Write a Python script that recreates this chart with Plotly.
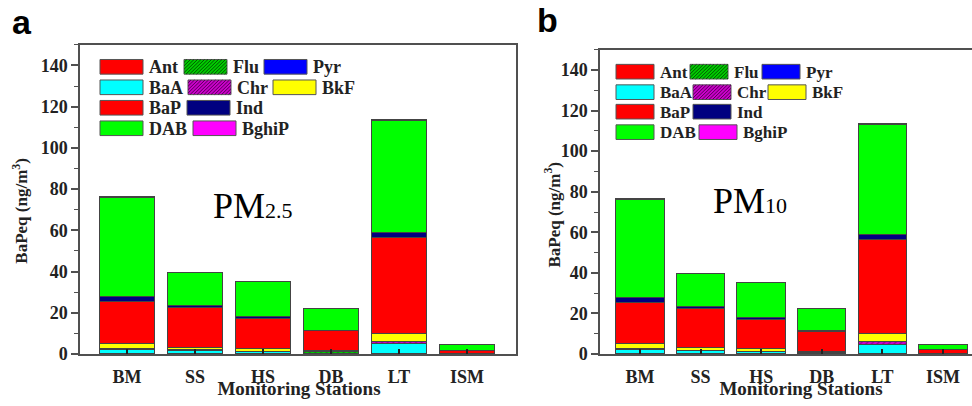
import plotly.graph_objects as go

# ---------------- data ----------------
stations = ["BM", "SS", "HS", "DB", "LT", "ISM"]
species = ["Ant", "Flu", "Pyr", "BaA", "Chr", "BkF", "BaP", "Ind", "DAB", "BghiP"]
y_ticks = [0, 20, 40, 60, 80, 100, 120, 140]
x_title = "Monitoring Stations"

# PM2.5 BaPeq (ng/m3)
pm25_ant = [0.1, 0.1, 0.1, 0.5, 0.2, 0.2]
pm25_flu = [0.05, 0.05, 0.05, 0.5, 0.1, 0.05]
pm25_pyr = [0.1, 0.05, 0.05, 0.05, 0.1, 0.02]
pm25_baa = [1.8, 1.5, 1.0, 0.1, 4.6, 0.0]
pm25_chr = [0.5, 0.3, 0.2, 0.05, 1.1, 0.0]
pm25_bkf = [2.5, 1.4, 1.5, 0.3, 4.1, 0.1]
pm25_bap = [20.4, 19.3, 14.5, 9.8, 46.3, 1.4]
pm25_ind = [2.3, 0.7, 0.8, 0.2, 2.7, 0.1]
pm25_dab = [48.4, 16.1, 16.8, 10.6, 54.0, 2.6]
pm25_bghip = [0.5, 0.2, 0.2, 0.1, 0.6, 0.05]

# PM10 BaPeq (ng/m3)
pm10_ant = [0.1, 0.1, 0.1, 0.5, 0.2, 0.2]
pm10_flu = [0.05, 0.05, 0.05, 0.5, 0.1, 0.05]
pm10_pyr = [0.1, 0.05, 0.05, 0.05, 0.1, 0.02]
pm10_baa = [1.8, 1.5, 1.0, 0.1, 4.5, 0.0]
pm10_chr = [0.5, 0.3, 0.2, 0.05, 1.1, 0.0]
pm10_bkf = [2.6, 1.3, 1.4, 0.3, 4.2, 0.1]
pm10_bap = [20.3, 19.3, 14.2, 9.8, 46.3, 1.7]
pm10_ind = [2.2, 0.6, 0.9, 0.2, 2.6, 0.1]
pm10_dab = [48.3, 16.4, 17.2, 10.9, 54.0, 2.5]
pm10_bghip = [0.6, 0.2, 0.2, 0.1, 0.6, 0.05]

pm25 = [pm25_ant, pm25_flu, pm25_pyr, pm25_baa, pm25_chr,
        pm25_bkf, pm25_bap, pm25_ind, pm25_dab, pm25_bghip]
pm10 = [pm10_ant, pm10_flu, pm10_pyr, pm10_baa, pm10_chr,
        pm10_bkf, pm10_bap, pm10_ind, pm10_dab, pm10_bghip]

# ---------------- styles ----------------
colors = ["#FF0000", "#00CC00", "#0000FF", "#00FFFF", "#CC00CC",
          "#FFFF00", "#FF0000", "#000080", "#00FF00", "#FF00FF"]
hatch = [None, "#005500", None, None, "#550055", None, None, None, None, None]

W, H = 972, 406
SERIF = "Liberation Serif"
SANS = "Liberation Sans"
EDGE = "#444444"
AX = "#505050"


def px(x):
    return x / W


def py(y):
    return 1 - y / H


fig = go.Figure()

panels = [
    dict(data=pm25, xa="x", ya="y"),
    dict(data=pm10, xa="x2", ya="y2"),
]
for p in panels:
    for i, name in enumerate(species):
        marker = dict(color=colors[i], line=dict(color=EDGE, width=1))
        if hatch[i]:
            marker["pattern"] = dict(shape="/", fgcolor=hatch[i], size=4, solidity=0.35)
        fig.add_trace(go.Bar(x=stations, y=p["data"][i], name=name,
                             xaxis=p["xa"], yaxis=p["ya"], marker=marker,
                             showlegend=False))

# x-axis titles as text on a full-page pixel overlay (so they can be cut at the edge)
fig.add_trace(go.Scatter(x=[299, 801], y=[400, 400], mode="text",
                         text=[x_title, x_title], textposition="middle center",
                         textfont=dict(family=SERIF, size=19, color="#222", weight="bold"),
                         xaxis="x3", yaxis="y3", cliponaxis=False, showlegend=False,
                         hoverinfo="skip"))

axis_common_y = dict(range=[0, 150], tickvals=y_ticks, ticks="outside", ticklen=7,
                     tickwidth=1.5, tickcolor=AX, showline=True, linecolor=AX,
                     linewidth=1.5, showgrid=False, zeroline=False,
                     tickfont=dict(family=SERIF, size=18, color="#222", weight="bold"),
                     minor=dict(dtick=10, ticks="outside", ticklen=4, tickcolor=AX,
                                tickwidth=1.2, showgrid=False))
axis_common_x = dict(type="category", categoryarray=stations, ticks="inside", ticklen=5,
                     tickwidth=1.5, tickcolor="#222", showline=True, linecolor=AX,
                     linewidth=1.5, mirror=True, showgrid=False, ticklabelstandoff=6,
                     tickfont=dict(family=SERIF, size=18, color="#222", weight="bold"))

fig.update_layout(
    width=W, height=H, autosize=False, margin=dict(l=0, r=0, t=0, b=0),
    paper_bgcolor="white", plot_bgcolor="rgba(0,0,0,0)",
    barmode="stack", bargap=0.2, showlegend=False,
    xaxis=dict(axis_common_x, domain=[px(80), px(516)], range=[-0.69, 5.72], anchor="y"),
    yaxis=dict(axis_common_y, domain=[py(363), py(46)], anchor="x", mirror=True),
    xaxis2=dict(axis_common_x, domain=[px(600), 1.0], range=[-0.66, 5.48], anchor="y2"),
    yaxis2=dict(axis_common_y, domain=[py(363), py(51)], anchor="x2"),
    xaxis3=dict(domain=[0, 1], range=[0, W], visible=False, anchor="y3", fixedrange=True),
    yaxis3=dict(domain=[0, 1], range=[H, 0], visible=False, anchor="x3", fixedrange=True),
)

# ---------------- manual legends ----------------
legend_layouts = [
    dict(sw=43, sh=15, font=18, tops=[61, 82, 103, 124],
         pos=[(0, 100), (0, 184), (0, 264), (1, 100), (1, 188), (1, 273),
              (2, 100), (2, 187), (3, 100), (3, 193)]),
    dict(sw=38, sh=15, font=17, tops=[66, 87, 107, 128],
         pos=[(0, 616), (0, 690), (0, 762), (1, 616), (1, 693), (1, 768),
              (2, 616), (2, 693), (3, 616), (3, 699)]),
]
shapes = []
annotations = []
for lg in legend_layouts:
    for i, name in enumerate(species):
        row, x0 = lg["pos"][i]
        y0 = lg["tops"][row]
        x1, y1 = x0 + lg["sw"], y0 + lg["sh"]
        shapes.append(dict(type="rect", xref="paper", yref="paper",
                           x0=px(x0), x1=px(x1), y0=py(y1), y1=py(y0),
                           fillcolor=colors[i], line=dict(color="#555", width=1)))
        if hatch[i]:
            c = x0 + y0 + 3
            while c < x1 + y1:
                xa, xb = max(x0, c - y1), min(x1, c - y0)
                if xb > xa:
                    shapes.append(dict(type="line", xref="paper", yref="paper",
                                       x0=px(xa), y0=py(c - xa), x1=px(xb), y1=py(c - xb),
                                       line=dict(color=hatch[i], width=1)))
                c += 3.5
        annotations.append(dict(text=name, xref="paper", yref="paper",
                                x=px(x1 + 4), y=py((y0 + y1) / 2 + 0.5),
                                xanchor="left", yanchor="middle", showarrow=False,
                                font=dict(family=SERIF, size=lg["font"], color="#222",
                                          weight="bold")))

# panel letters
annotations.append(dict(text="a", xref="paper", yref="paper", x=px(10), y=py(23),
                        xanchor="left", yanchor="middle", showarrow=False,
                        font=dict(family=SANS, size=34, color="black", weight="bold")))
annotations.append(dict(text="b", xref="paper", yref="paper", x=px(535), y=py(21),
                        xanchor="left", yanchor="middle", showarrow=False,
                        font=dict(family=SANS, size=34, color="black", weight="bold")))

# PM labels
annotations.append(dict(text="PM<span style='font-size:22px'>2.5</span>",
                        xref="paper", yref="paper", x=px(211), y=py(211),
                        xanchor="left", yanchor="middle", showarrow=False,
                        font=dict(family=SERIF, size=36, color="black")))
annotations.append(dict(text="PM<span style='font-size:22px'>10</span>",
                        xref="paper", yref="paper", x=px(711), y=py(206),
                        xanchor="left", yanchor="middle", showarrow=False,
                        font=dict(family=SERIF, size=36, color="black")))

# y axis titles
for xc, yc in [(20, 216), (552, 220)]:
    annotations.append(dict(text="BaPeq (ng/m<sup>3</sup>)", xref="paper", yref="paper",
                            x=px(xc), y=py(yc), xanchor="center", yanchor="middle",
                            textangle=-90, showarrow=False,
                            font=dict(family=SERIF, size=17, color="#222", weight="bold")))

fig.update_layout(shapes=shapes, annotations=annotations)
fig.write_html("out.html", config={"responsive": False})
